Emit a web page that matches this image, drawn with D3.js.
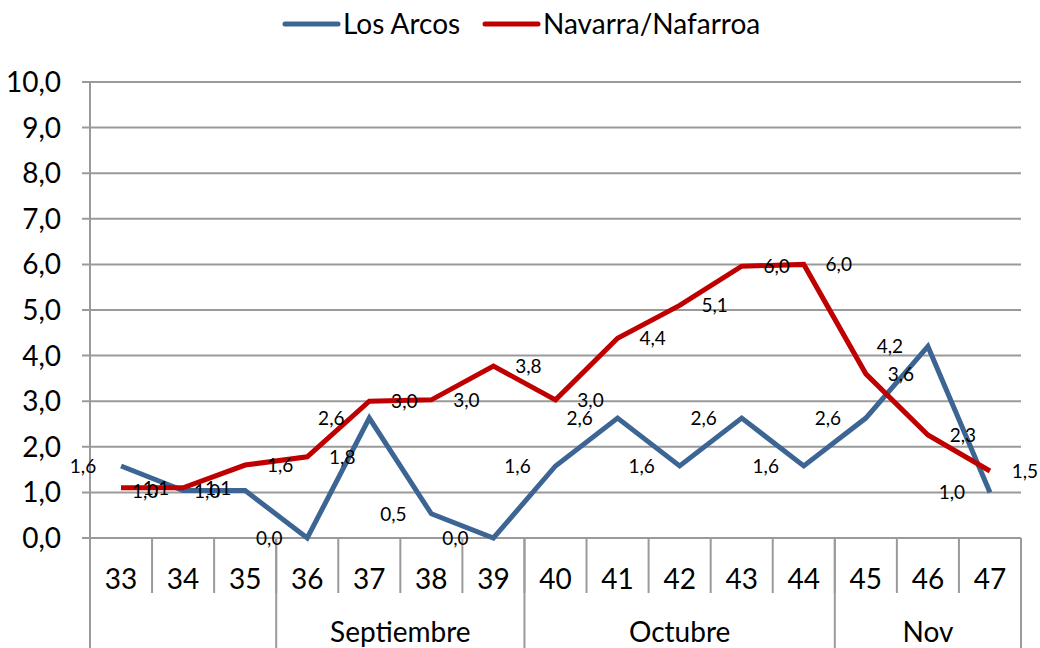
<!DOCTYPE html>
<html>
<head>
<meta charset="utf-8">
<script src="https://cdn.jsdelivr.net/npm/d3@7"></script>
<style>
  body { margin: 0; background: #fff; }
  text { font-family: Lato, "Liberation Sans", sans-serif; fill: #000; }
</style>
</head>
<body>
<svg width="1040" height="648"></svg>
<script>
var weeks = ["33","34","35","36","37","38","39","40","41","42","43","44","45","46","47"];
var months = [
  {name: "", from: "33", to: "35"},
  {name: "Septiembre", from: "36", to: "39"},
  {name: "Octubre", from: "40", to: "44"},
  {name: "Nov", from: "45", to: "47"}
];
var losArcos = [1.58, 1.04, 1.04, 0.0, 2.63, 0.53, 0.0, 1.58, 2.63, 1.58, 2.63, 1.58, 2.63, 4.2, 1.0];
var navarra = [1.1, 1.1, 1.6, 1.78, 3.0, 3.03, 3.77, 3.03, 4.38, 5.1, 5.96, 6.0, 3.6, 2.26, 1.47];
var yTicks = [0,1,2,3,4,5,6,7,8,9,10];

(function(){
var svg = d3.select("svg");
var pLeft = 90, pRight = 1021, pTop = 82, pBottom = 538;

var x = d3.scaleBand().domain(weeks).range([pLeft, pRight]);
var y = d3.scaleLinear().domain([0, 10]).range([pBottom, pTop]);

function fmt(v) { return v.toFixed(1).replace(".", ","); }

// grid
svg.append("g").selectAll("line")
  .data(yTicks).enter().append("line")
  .attr("x1", pLeft - 8).attr("x2", pRight)
  .attr("y1", function(d){ return y(d); })
  .attr("y2", function(d){ return y(d); })
  .attr("stroke", "#9a9a9a").attr("stroke-width", 2);

svg.append("g").selectAll("text")
  .data(yTicks).enter().append("text")
  .attr("x", 61).attr("y", function(d){ return y(d) + 10; })
  .attr("text-anchor", "end")
  .style("font-size", "28px")
  .text(function(d){ return fmt(d); });

// left axis line
svg.append("line").attr("x1", pLeft).attr("x2", pLeft)
  .attr("y1", pTop).attr("y2", 648)
  .attr("stroke", "#9a9a9a").attr("stroke-width", 2);

// category separators
var bounds = weeks.map(function(w){ return x(w); }).concat([pRight]);
svg.append("g").selectAll("line")
  .data(bounds).enter().append("line")
  .attr("x1", function(d){ return d; }).attr("x2", function(d){ return d; })
  .attr("y1", pBottom).attr("y2", 593)
  .attr("stroke", "#9a9a9a").attr("stroke-width", 2);

svg.append("g").selectAll("text")
  .data(weeks).enter().append("text")
  .attr("x", function(d){ return x(d) + x.bandwidth() / 2; })
  .attr("y", 589)
  .attr("text-anchor", "middle")
  .style("font-size", "28px")
  .text(function(d){ return d; });

// month groups
var mg = svg.append("g");
months.forEach(function(m){
  var x0 = x(m.from), x1 = x(m.to) + x.bandwidth();
  mg.append("line").attr("x1", x1).attr("x2", x1).attr("y1", pBottom).attr("y2", 648)
    .attr("stroke", "#9a9a9a").attr("stroke-width", 2);
  mg.append("text").attr("x", (x0 + x1) / 2).attr("y", 642)
    .attr("text-anchor", "middle").style("font-size", "28px").text(m.name);
});

// lines
var line = d3.line()
  .x(function(d, i){ return x(weeks[i]) + x.bandwidth() / 2; })
  .y(function(d){ return y(d); });

var series = [
  {name: "Los Arcos", values: losArcos, color: "#3c6594", dx: -38},
  {name: "Navarra/Nafarroa", values: navarra, color: "#c00000", dx: 35}
];

series.forEach(function(s){
  svg.append("path").datum(s.values)
    .attr("d", line)
    .attr("fill", "none")
    .attr("stroke", s.color)
    .attr("stroke-width", 5)
    .attr("stroke-linejoin", "miter");
});

series.forEach(function(s){
  svg.append("g").selectAll("text")
    .data(s.values).enter().append("text")
    .attr("x", function(d, i){ return x(weeks[i]) + x.bandwidth() / 2 + s.dx; })
    .attr("y", function(d){ return y(d) + 7; })
    .attr("text-anchor", "middle")
    .style("font-size", "19px")
    .text(function(d){ return fmt(d); });
});

// legend
var legend = svg.append("g");
var lx = [285, 485];
series.forEach(function(s, i){
  legend.append("line")
    .attr("x1", lx[i]).attr("x2", lx[i] + 53)
    .attr("y1", 24).attr("y2", 24)
    .attr("stroke", s.color).attr("stroke-width", 5)
    .attr("stroke-linecap", "round");
  legend.append("text")
    .attr("x", lx[i] + 58).attr("y", 34)
    .style("font-size", "28px")
    .text(s.name);
});
})();
</script>
</body>
</html>
